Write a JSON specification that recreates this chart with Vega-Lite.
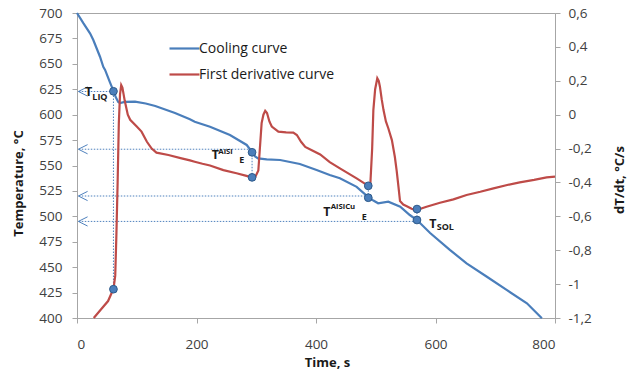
{
  "$schema": "https://vega.github.io/schema/vega-lite/v6.json",
  "width": 478,
  "height": 305,
  "autosize": {"type": "none"},
  "padding": {"left": 77, "top": 13, "right": 72, "bottom": 53},
  "background": "white",
  "config": {
    "view": {"stroke": "#A6A6A6", "strokeWidth": 1},
    "font": "Open Sans",
    "axis": {
      "domainColor": "#A6A6A6",
      "tickColor": "#A6A6A6",
      "labelColor": "#404040",
      "titleColor": "#1a1a1a",
      "labelFont": "Open Sans",
      "titleFont": "Open Sans",
      "grid": false,
      "tickSize": 5,
      "labelFontSize": 13.5,
      "titleFontSize": 13,
      "titleFontWeight": "bold"
    }
  },
  "datasets": {
    "cool": [
      {"t": 0, "T": 700}, {"t": 10.6, "T": 690}, {"t": 21.8, "T": 680}, {"t": 27.3, "T": 673.4},
      {"t": 38.5, "T": 657}, {"t": 44, "T": 647}, {"t": 47, "T": 644}, {"t": 55, "T": 632},
      {"t": 61, "T": 623.5}, {"t": 65, "T": 617}, {"t": 69, "T": 612.5}, {"t": 72, "T": 611.5},
      {"t": 80, "T": 612.5}, {"t": 97, "T": 612.8}, {"t": 115, "T": 611}, {"t": 131, "T": 608.5},
      {"t": 164, "T": 601.6}, {"t": 189, "T": 595.4}, {"t": 197, "T": 593}, {"t": 222.6, "T": 588.2},
      {"t": 256, "T": 580}, {"t": 284, "T": 570.2}, {"t": 293.5, "T": 563}, {"t": 298, "T": 559},
      {"t": 303, "T": 557}, {"t": 317.5, "T": 556}, {"t": 340, "T": 555.4}, {"t": 373, "T": 551.5},
      {"t": 401, "T": 545.6}, {"t": 423, "T": 540.7}, {"t": 440, "T": 537.4}, {"t": 468, "T": 529},
      {"t": 487.5, "T": 519}, {"t": 496, "T": 515.5}, {"t": 504, "T": 512.8}, {"t": 521, "T": 514.4},
      {"t": 541, "T": 509.5}, {"t": 557, "T": 501.3}, {"t": 569, "T": 496.4}, {"t": 591, "T": 483.6},
      {"t": 624, "T": 467}, {"t": 652, "T": 453.8}, {"t": 686, "T": 440.6}, {"t": 719, "T": 427.6},
      {"t": 753, "T": 414.5}, {"t": 778, "T": 399.7}
    ],
    "deriv": [
      {"t": 28, "v": -1.2}, {"t": 40, "v": -1.15}, {"t": 52, "v": -1.1}, {"t": 57, "v": -1.06},
      {"t": 61, "v": -1.03}, {"t": 64, "v": -0.95}, {"t": 66, "v": -0.7}, {"t": 68, "v": -0.4},
      {"t": 70, "v": -0.05}, {"t": 72, "v": 0.12}, {"t": 74, "v": 0.175}, {"t": 76, "v": 0.16},
      {"t": 80, "v": 0.08}, {"t": 85, "v": 0.0}, {"t": 89, "v": -0.03}, {"t": 100, "v": -0.07},
      {"t": 108, "v": -0.1}, {"t": 117, "v": -0.16}, {"t": 125, "v": -0.2}, {"t": 133, "v": -0.224},
      {"t": 153, "v": -0.238}, {"t": 175, "v": -0.258}, {"t": 189, "v": -0.27}, {"t": 197, "v": -0.278},
      {"t": 210, "v": -0.29}, {"t": 222.6, "v": -0.3}, {"t": 245, "v": -0.327}, {"t": 267, "v": -0.346},
      {"t": 282, "v": -0.36}, {"t": 293, "v": -0.37}, {"t": 298, "v": -0.37}, {"t": 303.5, "v": -0.33},
      {"t": 309, "v": -0.05}, {"t": 312, "v": 0.0}, {"t": 315, "v": 0.023}, {"t": 318, "v": 0.01},
      {"t": 322, "v": -0.04}, {"t": 326, "v": -0.07}, {"t": 337, "v": -0.1}, {"t": 350, "v": -0.105},
      {"t": 362, "v": -0.106}, {"t": 368, "v": -0.12}, {"t": 375, "v": -0.16}, {"t": 382, "v": -0.19},
      {"t": 393, "v": -0.21}, {"t": 407, "v": -0.235}, {"t": 423, "v": -0.28}, {"t": 440, "v": -0.317},
      {"t": 468, "v": -0.376}, {"t": 487.5, "v": -0.42}, {"t": 491, "v": -0.405}, {"t": 494, "v": -0.2},
      {"t": 496, "v": 0.027}, {"t": 499, "v": 0.15}, {"t": 502.6, "v": 0.215}, {"t": 505, "v": 0.2},
      {"t": 507, "v": 0.165}, {"t": 510, "v": 0.09}, {"t": 513, "v": 0.027}, {"t": 517, "v": -0.04},
      {"t": 521, "v": -0.08}, {"t": 527, "v": -0.15}, {"t": 532, "v": -0.25}, {"t": 535, "v": -0.33},
      {"t": 538, "v": -0.425}, {"t": 540.6, "v": -0.51}, {"t": 546, "v": -0.53}, {"t": 552, "v": -0.54},
      {"t": 560, "v": -0.555}, {"t": 566, "v": -0.563}, {"t": 575, "v": -0.555}, {"t": 585, "v": -0.543},
      {"t": 607.5, "v": -0.52}, {"t": 630, "v": -0.5}, {"t": 652, "v": -0.474}, {"t": 675, "v": -0.455},
      {"t": 697, "v": -0.435}, {"t": 720, "v": -0.415}, {"t": 741, "v": -0.4}, {"t": 765, "v": -0.385},
      {"t": 786, "v": -0.37}, {"t": 800, "v": -0.366}
    ],
    "hlines": [
      {"t1": 3, "t2": 61, "T": 622.8},
      {"t1": 3, "t2": 290, "T": 566},
      {"t1": 3, "t2": 487.5, "T": 520},
      {"t1": 3, "t2": 569, "T": 495}
    ],
    "vlines": [
      {"t": 61, "Ta": 428.5, "Tb": 623},
      {"t": 293, "Ta": 538.4, "Tb": 563},
      {"t": 487.5, "Ta": 518.3, "Tb": 529.8},
      {"t": 569, "Ta": 496.4, "Tb": 506.5}
    ],
    "arrows": [
      {"t": 10, "T": 622.8}, {"t": 10, "T": 566}, {"t": 10, "T": 520}, {"t": 10, "T": 495}
    ],
    "bluepts": [
      {"t": 61, "T": 623}, {"t": 293, "T": 563}, {"t": 487.5, "T": 518.3}, {"t": 569, "T": 496.4}
    ],
    "redpts": [
      {"t": 61, "v": -1.03}, {"t": 293, "v": -0.37}, {"t": 487.5, "v": -0.42}, {"t": 569, "v": -0.557}
    ],
    "labels": [
      {"t": 13.4, "T": 622.6, "txt": "T", "k": "main"},
      {"t": 25.6, "T": 617.4, "txt": "LIQ", "k": "sub"},
      {"t": 225.4, "T": 560.0, "txt": "T", "k": "main"},
      {"t": 236.5, "T": 563.6, "txt": "AlSi", "k": "sup"},
      {"t": 271.6, "T": 555.4, "txt": "E", "k": "sub"},
      {"t": 412.2, "T": 504.1, "txt": "T", "k": "main"},
      {"t": 424.6, "T": 509.5, "txt": "AlSiCu", "k": "sup"},
      {"t": 476.5, "T": 499.6, "txt": "E", "k": "sub"},
      {"t": 589.6, "T": 492.3, "txt": "T", "k": "main"},
      {"t": 602, "T": 489.5, "txt": "SOL", "k": "sub"}
    ]
  },
  "layer": [
    {
      "layer": [
        {
          "data": {"name": "hlines"},
          "mark": {"type": "rule", "color": "#4F81BD", "strokeWidth": 1, "strokeDash": [1.5, 1.5]},
          "encoding": {
            "x": {"field": "t1", "type": "quantitative", "scale": {"domain": [0, 800]},
              "axis": {"values": [0, 200, 400, 600, 800], "title": "Time, s", "labelPadding": 14,
                "titleX": 250, "titleY": 44, "titleAlign": "center", "titleBaseline": "middle"}},
            "x2": {"field": "t2"},
            "y": {"field": "T", "type": "quantitative", "scale": {"domain": [400, 700]},
              "axis": {"values": [400, 425, 450, 475, 500, 525, 550, 575, 600, 625, 650, 675, 700],
                "title": "Temperature, °C", "labelPadding": 10, "titleAngle": 270,
                "titleX": -59, "titleY": 170, "titleAlign": "center", "titleBaseline": "middle"}}
          }
        },
        {
          "data": {"name": "vlines"},
          "mark": {"type": "rule", "color": "#4F81BD", "strokeWidth": 1, "strokeDash": [1.5, 1.5]},
          "encoding": {
            "x": {"field": "t", "type": "quantitative", "scale": {"domain": [0, 800]},
              "axis": {"values": [0, 200, 400, 600, 800], "title": "Time, s", "labelPadding": 14,
                "titleX": 250, "titleY": 44, "titleAlign": "center", "titleBaseline": "middle"}},
            "y": {"field": "Ta", "type": "quantitative", "scale": {"domain": [400, 700]},
              "axis": {"values": [400, 425, 450, 475, 500, 525, 550, 575, 600, 625, 650, 675, 700],
                "title": "Temperature, °C", "labelPadding": 10, "titleAngle": 270,
                "titleX": -59, "titleY": 170, "titleAlign": "center", "titleBaseline": "middle"}},
            "y2": {"field": "Tb"}
          }
        },
        {
          "data": {"name": "arrows"},
          "mark": {"type": "point", "shape": "M1,-1L-1,0L1,1", "filled": false, "stroke": "#4F81BD", "strokeWidth": 1, "size": 85, "opacity": 1},
          "encoding": {
            "x": {"field": "t", "type": "quantitative", "scale": {"domain": [0, 800]},
              "axis": {"values": [0, 200, 400, 600, 800], "title": "Time, s", "labelPadding": 14,
                "titleX": 250, "titleY": 44, "titleAlign": "center", "titleBaseline": "middle"}},
            "y": {"field": "T", "type": "quantitative", "scale": {"domain": [400, 700]},
              "axis": {"values": [400, 425, 450, 475, 500, 525, 550, 575, 600, 625, 650, 675, 700],
                "title": "Temperature, °C", "labelPadding": 10, "titleAngle": 270,
                "titleX": -59, "titleY": 170, "titleAlign": "center", "titleBaseline": "middle"}}
          }
        },
        {
          "data": {"name": "cool"},
          "mark": {"type": "line", "strokeWidth": 2.2},
          "encoding": {
            "x": {"field": "t", "type": "quantitative", "scale": {"domain": [0, 800]},
              "axis": {"values": [0, 200, 400, 600, 800], "title": "Time, s", "labelPadding": 14,
                "titleX": 250, "titleY": 44, "titleAlign": "center", "titleBaseline": "middle"}},
            "y": {"field": "T", "type": "quantitative", "scale": {"domain": [400, 700]},
              "axis": {"values": [400, 425, 450, 475, 500, 525, 550, 575, 600, 625, 650, 675, 700],
                "title": "Temperature, °C", "labelPadding": 10, "titleAngle": 270,
                "titleX": -59, "titleY": 170, "titleAlign": "center", "titleBaseline": "middle"}},
            "color": {"datum": "Cooling curve", "type": "nominal",
              "scale": {"domain": ["Cooling curve", "First derivative curve"], "range": ["#4A7EBB", "#BE4B48"]},
              "legend": {"orient": "none", "legendX": 91, "legendY": 19, "title": null,
                "symbolType": "stroke", "symbolSize": 900, "symbolStrokeWidth": 2.2,
                "labelFontSize": 14, "labelColor": "#1a1a1a", "labelFont": "Open Sans",
                "labelOffset": -2, "rowPadding": 2}}
          }
        },
        {
          "data": {"name": "labels"},
          "transform": [{"filter": "datum.k === 'main'"}],
          "mark": {"type": "text", "align": "left", "baseline": "middle", "fontSize": 12.5, "fontWeight": "bold", "color": "#1a1a1a"},
          "encoding": {
            "x": {"field": "t", "type": "quantitative", "scale": {"domain": [0, 800]},
              "axis": {"values": [0, 200, 400, 600, 800], "title": "Time, s", "labelPadding": 14,
                "titleX": 250, "titleY": 44, "titleAlign": "center", "titleBaseline": "middle"}},
            "y": {"field": "T", "type": "quantitative", "scale": {"domain": [400, 700]},
              "axis": {"values": [400, 425, 450, 475, 500, 525, 550, 575, 600, 625, 650, 675, 700],
                "title": "Temperature, °C", "labelPadding": 10, "titleAngle": 270,
                "titleX": -59, "titleY": 170, "titleAlign": "center", "titleBaseline": "middle"}},
            "text": {"field": "txt"}
          }
        },
        {
          "data": {"name": "labels"},
          "transform": [{"filter": "datum.k === 'sub'"}],
          "mark": {"type": "text", "align": "left", "baseline": "middle", "fontSize": 9, "fontWeight": "bold", "color": "#1a1a1a"},
          "encoding": {
            "x": {"field": "t", "type": "quantitative", "scale": {"domain": [0, 800]},
              "axis": {"values": [0, 200, 400, 600, 800], "title": "Time, s", "labelPadding": 14,
                "titleX": 250, "titleY": 44, "titleAlign": "center", "titleBaseline": "middle"}},
            "y": {"field": "T", "type": "quantitative", "scale": {"domain": [400, 700]},
              "axis": {"values": [400, 425, 450, 475, 500, 525, 550, 575, 600, 625, 650, 675, 700],
                "title": "Temperature, °C", "labelPadding": 10, "titleAngle": 270,
                "titleX": -59, "titleY": 170, "titleAlign": "center", "titleBaseline": "middle"}},
            "text": {"field": "txt"}
          }
        },
        {
          "data": {"name": "labels"},
          "transform": [{"filter": "datum.k === 'sup'"}],
          "mark": {"type": "text", "align": "left", "baseline": "middle", "fontSize": 7.8, "fontWeight": "bold", "color": "#1a1a1a"},
          "encoding": {
            "x": {"field": "t", "type": "quantitative", "scale": {"domain": [0, 800]},
              "axis": {"values": [0, 200, 400, 600, 800], "title": "Time, s", "labelPadding": 14,
                "titleX": 250, "titleY": 44, "titleAlign": "center", "titleBaseline": "middle"}},
            "y": {"field": "T", "type": "quantitative", "scale": {"domain": [400, 700]},
              "axis": {"values": [400, 425, 450, 475, 500, 525, 550, 575, 600, 625, 650, 675, 700],
                "title": "Temperature, °C", "labelPadding": 10, "titleAngle": 270,
                "titleX": -59, "titleY": 170, "titleAlign": "center", "titleBaseline": "middle"}},
            "text": {"field": "txt"}
          }
        }
      ]
    },
    {
      "data": {"name": "deriv"},
      "mark": {"type": "line", "strokeWidth": 2.2},
      "encoding": {
        "x": {"field": "t", "type": "quantitative", "scale": {"domain": [0, 800]},
          "axis": {"values": [0, 200, 400, 600, 800], "title": "Time, s", "labelPadding": 14,
            "titleX": 250, "titleY": 44, "titleAlign": "center", "titleBaseline": "middle"}},
        "y": {"field": "v", "type": "quantitative", "scale": {"domain": [-1.2, 0.6]},
          "axis": {"orient": "right", "values": [-1.2, -1, -0.8, -0.6, -0.4, -0.2, 0, 0.2, 0.4, 0.6],
            "labelExpr": "replace(replace(format(datum.value, '.1~f'), '.', ','), '\u2212', '-')",
            "title": "dT/dt, °C/s", "labelPadding": 8, "titleAngle": 270,
            "titleX": 64, "titleY": 166.5, "titleAlign": "center", "titleBaseline": "middle"}},
        "color": {"datum": "First derivative curve", "type": "nominal"}
      }
    },
    {
      "data": {"name": "bluepts"},
      "mark": {"type": "point", "shape": "circle", "filled": true, "fill": "#4A7EBB", "stroke": "#2E5A8A", "strokeWidth": 1, "size": 60, "opacity": 1},
      "encoding": {
        "x": {"field": "t", "type": "quantitative", "scale": {"domain": [0, 800]},
          "axis": {"values": [0, 200, 400, 600, 800], "title": "Time, s", "labelPadding": 14,
            "titleX": 250, "titleY": 44, "titleAlign": "center", "titleBaseline": "middle"}},
        "y": {"field": "T", "type": "quantitative", "scale": {"domain": [400, 700]}, "axis": null}
      }
    },
    {
      "data": {"name": "redpts"},
      "mark": {"type": "point", "shape": "circle", "filled": true, "fill": "#4A7EBB", "stroke": "#2E5A8A", "strokeWidth": 1, "size": 60, "opacity": 1},
      "encoding": {
        "x": {"field": "t", "type": "quantitative", "scale": {"domain": [0, 800]},
          "axis": {"values": [0, 200, 400, 600, 800], "title": "Time, s", "labelPadding": 14,
            "titleX": 250, "titleY": 44, "titleAlign": "center", "titleBaseline": "middle"}},
        "y": {"field": "v", "type": "quantitative", "scale": {"domain": [-1.2, 0.6]}, "axis": null}
      }
    }
  ],
  "resolve": {"scale": {"y": "independent"}}
}
